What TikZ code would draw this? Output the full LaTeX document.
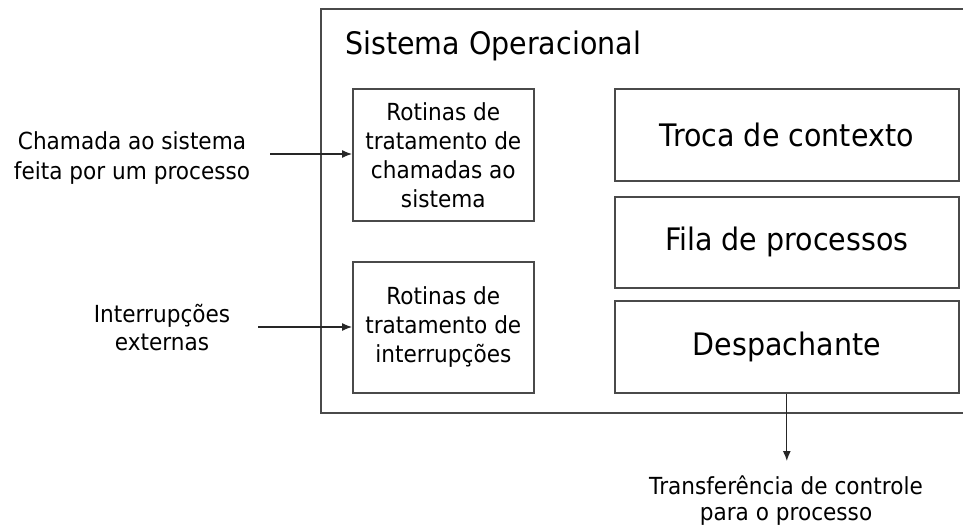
\documentclass[tikz,border=0pt]{standalone}
\usepackage{fontspec}
\setmainfont[FakeStretch=0.92]{DejaVu Sans}
\usetikzlibrary{arrows.meta}
\definecolor{linegray}{HTML}{4A4A4A}
\begin{document}
\begin{tikzpicture}[x=1pt,y=-1pt,
  box/.style={draw=linegray,line width=1.6pt,rectangle,inner sep=0pt,align=center,anchor=north west},
  bigtxt/.style={font=\fontsize{31}{36}\selectfont},
  smalltxt/.style={font=\fontsize{23.5}{29}\selectfont},
  arr/.style={draw=black!85,line width=1.2pt,-{Latex[length=10pt,width=8pt]}},
  lbl/.style={align=center,inner sep=0pt}]
\useasboundingbox (0,0) rectangle (963,527);
\fill[white] (0,0) rectangle (963,527);
% outer system box (right edge outside the picture)
\node[box,minimum width=720pt,minimum height=404pt] (os) at (320,8) {};
\node[anchor=base west,inner sep=0pt,bigtxt] (title) at (345,55) {Sistema Operacional};
% left boxes
\node[box,smalltxt,minimum width=181pt,minimum height=132pt] (sc) at (352,88) {Rotinas de\\tratamento de\\chamadas ao\\sistema};
\node[box,smalltxt,minimum width=181pt,minimum height=131pt] (ir) at (352,261) {Rotinas de\\tratamento de\\interrupções};
% right boxes
\node[box,bigtxt,minimum width=344pt,minimum height=92pt] (tc) at (614,88) {Troca de contexto};
\node[box,bigtxt,minimum width=344pt,minimum height=91pt] (fp) at (614,196) {Fila de processos};
\node[box,bigtxt,minimum width=344pt,minimum height=92pt] (dp) at (614,300) {Despachante};
% outside labels
\node[lbl,font=\fontsize{23.5}{30}\selectfont] (l1) at (132,158) {Chamada ao sistema\\feita por um processo};
\node[lbl,font=\fontsize{23.5}{28}\selectfont] (l2) at (162,328) {Interrupções\\externas};
\node[lbl,font=\fontsize{23.5}{26}\selectfont] (l3) at (786,501) {Transferência de controle\\para o processo};
% connectors
\coordinate (a1) at (270,154);
\coordinate (a2) at (258,327);
\coordinate (a3) at (786,461);
\draw[arr] (a1) -- (sc.west |- a1);
\draw[arr] (a2) -- (ir.west |- a2);
\draw[arr] (dp.south) -- (dp.south |- a3);
\end{tikzpicture}
\end{document}
